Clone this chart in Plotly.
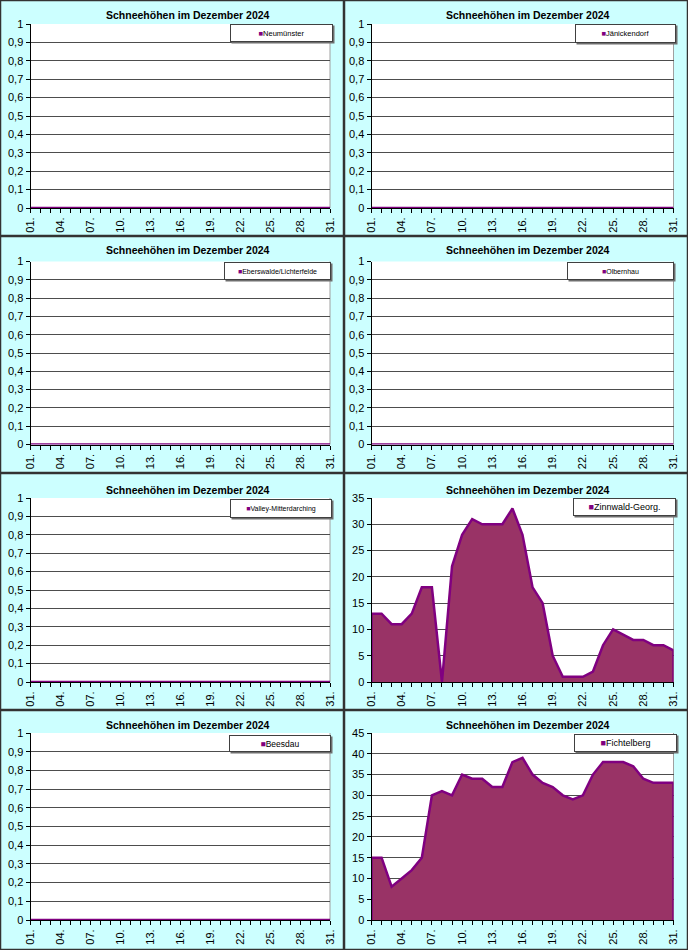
import plotly.graph_objects as go

# ---------------- data ----------------
days = list(range(1, 32))
tick_days = [1, 4, 7, 10, 13, 16, 19, 22, 25, 28, 31]
tick_labels = ["01.", "04.", "07.", "10.", "13.", "16.", "19.", "22.", "25.", "28.", "31."]

chart_title = "Schneehöhen im Dezember 2024"

stations = ["Neumünster", "Jänickendorf", "Eberswalde/Lichterfelde", "Olbernhau",
            "Valley-Mitterdarching", "Zinnwald-Georg.", "Beesdau", "Fichtelberg"]

neumuenster = [0, 0, 0, 0, 0, 0, 0, 0, 0, 0, 0, 0, 0, 0, 0, 0,
               0, 0, 0, 0, 0, 0, 0, 0, 0, 0, 0, 0, 0, 0, 0]
jaenickendorf = [0, 0, 0, 0, 0, 0, 0, 0, 0, 0, 0, 0, 0, 0, 0, 0,
                 0, 0, 0, 0, 0, 0, 0, 0, 0, 0, 0, 0, 0, 0, 0]
eberswalde = [0, 0, 0, 0, 0, 0, 0, 0, 0, 0, 0, 0, 0, 0, 0, 0,
              0, 0, 0, 0, 0, 0, 0, 0, 0, 0, 0, 0, 0, 0, 0]
olbernhau = [0, 0, 0, 0, 0, 0, 0, 0, 0, 0, 0, 0, 0, 0, 0, 0,
             0, 0, 0, 0, 0, 0, 0, 0, 0, 0, 0, 0, 0, 0, 0]
valley = [0, 0, 0, 0, 0, 0, 0, 0, 0, 0, 0, 0, 0, 0, 0, 0,
          0, 0, 0, 0, 0, 0, 0, 0, 0, 0, 0, 0, 0, 0, 0]
zinnwald = [13, 13, 11, 11, 13, 18, 18, 0, 22, 28, 31, 30, 30, 30, 33, 28,
            18, 15, 5, 1, 1, 1, 2, 7, 10, 9, 8, 8, 7, 7, 6]
beesdau = [0, 0, 0, 0, 0, 0, 0, 0, 0, 0, 0, 0, 0, 0, 0, 0,
           0, 0, 0, 0, 0, 0, 0, 0, 0, 0, 0, 0, 0, 0, 0]
fichtelberg = [15, 15, 8, 10, 12, 15, 30, 31, 30, 35, 34, 34, 32, 32, 38, 39,
               35, 33, 32, 30, 29, 30, 35, 38, 38, 38, 37, 34, 33, 33, 33]

series = [neumuenster, jaenickendorf, eberswalde, olbernhau,
          valley, zinnwald, beesdau, fichtelberg]
y_max = [1, 1, 1, 1, 1, 35, 1, 45]
y_step = [0.1, 0.1, 0.1, 0.1, 0.1, 5, 0.1, 5]

# ---------------- styling / geometry (pixels) ----------------
W, H = 688, 950
FONT = "Liberation Sans, Arial, sans-serif"
FILL = "#993366"
LINE = "#800080"

panel_cols = [(0.5, 343.5), (344.5, 687.5)]
panel_rows = [(0.5, 235.5), (236.5, 472.5), (473.5, 709.5), (710.5, 949.5)]
plot_cols = [(30.5, 330.0), (371.5, 673.5)]
plot_rows = [(24.0, 208.0), (261.5, 444.5), (498.0, 682.0), (733.0, 920.0)]
title_x = [188, 528]
title_y = [15.5, 250.0, 490.0, 725.0]
legend_boxes = [(230, 24, 333, 42), (575, 24, 676, 43),
                (224, 262, 331, 280), (567, 262, 674, 280),
                (230, 499, 332, 518), (573, 498, 676, 516),
                (229, 735, 331, 752), (574, 734, 677, 752)]
legend_font = [7.5, 7.5, 7, 7, 7, 9, 8.5, 9]


def fx(px):
    return px / W


def fy(py):
    return 1 - py / H


fig = go.Figure()
shapes = []
annotations = []
layout_axes = {}

for i, (name, vals) in enumerate(zip(stations, series)):
    r, c = divmod(i, 2)
    n = i + 1
    xa = "x" if n == 1 else f"x{n}"
    ya = "y" if n == 1 else f"y{n}"
    xkey = "xaxis" if n == 1 else f"xaxis{n}"
    ykey = "yaxis" if n == 1 else f"yaxis{n}"

    # area polygon (closed down to zero at both ends, like Excel area border)
    xs = [days[0]] + days + [days[-1]]
    ys = [0] + vals + [0]
    fig.add_trace(go.Scatter(
        x=xs, y=ys, mode="lines", fill="toself", fillcolor=FILL,
        line=dict(color=LINE, width=2.5), name=name, showlegend=False,
        xaxis=xa, yaxis=ya, hoverinfo="skip"))

    px0, px1 = plot_cols[c]
    py0, py1 = plot_rows[r]
    layout_axes[xkey] = dict(
        domain=[fx(px0), fx(px1)], anchor=ya, range=[days[0], days[-1]],
        automargin=False,
        tickmode="array", tickvals=tick_days, ticktext=tick_labels,
        tickangle=-90, ticks="outside", ticklen=4, tickcolor="black",
        tickfont=dict(family=FONT, size=11, color="black"),
        minor=dict(tickmode="array", tickvals=days, ticks="outside",
                   ticklen=4, tickcolor="black"),
        showgrid=False, zeroline=False, showline=True, linecolor="black",
        linewidth=1, fixedrange=True)
    layout_axes[ykey] = dict(
        domain=[fy(py1), fy(py0)], anchor=xa, range=[0, y_max[i]],
        automargin=False,
        tickmode="linear", tick0=0, dtick=y_step[i],
        ticks="outside", ticklen=4, tickcolor="black",
        tickfont=dict(family=FONT, size=11, color="black"),
        showgrid=True, gridcolor="#4d4d4d", gridwidth=1,
        zeroline=False, showline=True, linecolor="black", linewidth=1,
        fixedrange=True)

    # right border of plot area
    shapes.append(dict(type="line", xref="paper", yref="paper",
                       x0=fx(px1), x1=fx(px1), y0=fy(py1), y1=fy(py0),
                       line=dict(color="#a0a0a0", width=1), layer="below"))

    # panel frame
    cx0, cx1 = panel_cols[c]
    ry0, ry1 = panel_rows[r]
    shapes.append(dict(type="rect", xref="paper", yref="paper",
                       x0=fx(cx0), x1=fx(cx1), y0=fy(ry1), y1=fy(ry0),
                       line=dict(color="#333333", width=1.5),
                       fillcolor="rgba(0,0,0,0)", layer="above"))

    # title
    annotations.append(dict(
        text=chart_title, xref="paper", yref="paper",
        x=fx(title_x[c]), y=fy(title_y[r]), xanchor="center", yanchor="middle",
        showarrow=False,
        font=dict(family=FONT, size=10.5, color="black", weight="bold")))

    # legend box (shadow + box with marker and name)
    bx0, by0, bx1, by1 = legend_boxes[i]
    shapes.append(dict(type="rect", xref="paper", yref="paper",
                       x0=fx(bx0 + 1.5), x1=fx(bx1 + 1.5),
                       y0=fy(by1 + 1.5), y1=fy(by0 + 1.5),
                       line=dict(width=0), fillcolor="#6e6e6e", layer="above"))
    annotations.append(dict(
        text=f'<span style="color:{LINE}">■</span>{name}',
        xref="paper", yref="paper",
        x=fx((bx0 + bx1) / 2), y=fy((by0 + by1) / 2),
        xanchor="center", yanchor="middle", showarrow=False,
        width=bx1 - bx0 - 2, height=by1 - by0 - 2, align="center",
        valign="middle", bgcolor="white", bordercolor="#404040",
        borderwidth=1, borderpad=0,
        font=dict(family=FONT, size=legend_font[i], color="black")))

fig.update_layout(
    width=W, height=H, autosize=False,
    margin=dict(l=0, r=0, t=0, b=0, pad=0),
    paper_bgcolor="#ccffff", plot_bgcolor="white",
    separators=",.", showlegend=False,
    shapes=shapes, annotations=annotations,
    **layout_axes)

fig.write_html("out.html", config=dict(displayModeBar=False, staticPlot=True))
